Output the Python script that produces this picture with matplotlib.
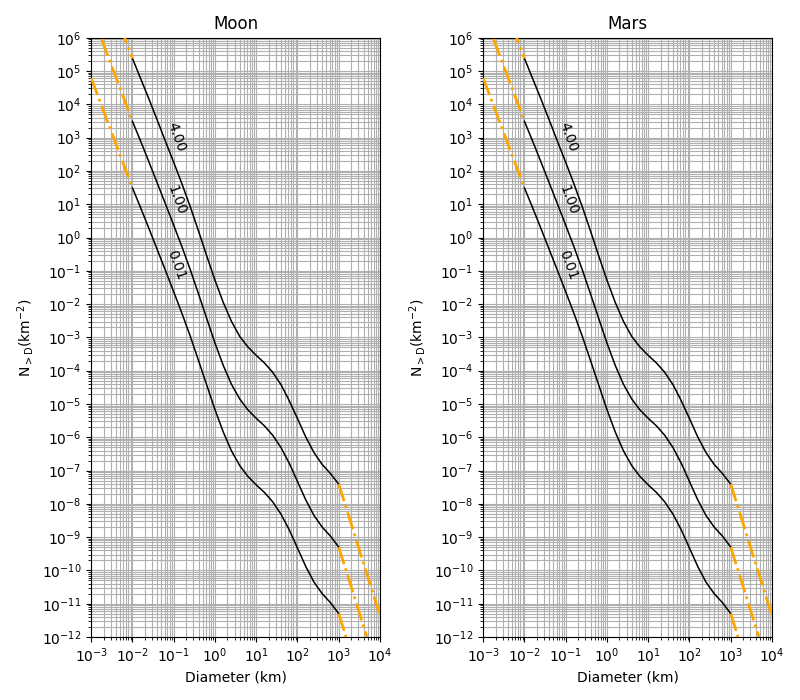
import numpy as np
import matplotlib
matplotlib.use('Agg')
import matplotlib.pyplot as plt
from matplotlib.ticker import LogLocator, NullFormatter

panel_titles = ['Moon', 'Mars']
iso_labels = ['4.00', '1.00', '0.01']

# log10 of crater diameter (km) at which the curves were read
log10_diam = [-2.0, -1.8, -1.6, -1.4, -1.2, -1.0, -0.8, -0.6, -0.4, -0.2,
              0.0, 0.2, 0.4, 0.6, 0.8, 1.0, 1.2, 1.4, 1.6, 1.8,
              2.0, 2.2, 2.4, 2.6, 2.8, 3.0]

# log10 of cumulative crater density N(>D) (km^-2) read for each isochron
log10_n_4p00 = [5.38, 4.77, 4.16, 3.53, 2.89, 2.26, 1.61, 0.93, 0.20, -0.55,
                -1.28, -1.95, -2.52, -2.97, -3.29, -3.54, -3.77, -4.05, -4.42, -4.90,
                -5.44, -5.99, -6.46, -6.82, -7.09, -7.41]
log10_n_1p00 = [3.49, 2.89, 2.27, 1.64, 1.01, 0.37, -0.28, -0.96, -1.69, -2.43,
                -3.17, -3.84, -4.41, -4.85, -5.18, -5.43, -5.66, -5.94, -6.31, -6.78,
                -7.33, -7.88, -8.35, -8.70, -8.97, -9.30]
log10_n_0p01 = [1.49, 0.89, 0.27, -0.36, -0.99, -1.63, -2.28, -2.96, -3.69, -4.43,
                -5.17, -5.84, -6.41, -6.85, -7.18, -7.43, -7.66, -7.94, -8.31, -8.78,
                -9.33, -9.88, -10.35, -10.70, -10.97, -11.30]

# extrapolated (orange) segments: small-D side and large-D side
ext_left_log10_diam = [-3.0, -2.0]
ext_left_4p00 = [8.68, 5.38]
ext_left_1p00 = [6.79, 3.49]
ext_left_0p01 = [4.79, 1.49]

ext_right_log10_diam = [3.0, 4.0]
ext_right_4p00 = [-7.41, -11.36]
ext_right_1p00 = [-9.30, -13.25]
ext_right_0p01 = [-11.30, -15.25]

# label anchor positions (log10 D, log10 N)
label_log10_diam = [-0.94, -0.94, -0.94]
label_log10_n = [3.02, 1.13, -0.82]

curves = [log10_n_4p00, log10_n_1p00, log10_n_0p01]
ext_left = [ext_left_4p00, ext_left_1p00, ext_left_0p01]
ext_right = [ext_right_4p00, ext_right_1p00, ext_right_0p01]

fig = plt.figure(figsize=(8, 7), dpi=100)
axes = [fig.add_axes([0.114, 0.09, 0.361, 0.856]),
        fig.add_axes([0.604, 0.09, 0.361, 0.856])]

D = 10.0 ** np.array(log10_diam)
for ax, title in zip(axes, panel_titles):
    ax.set_xscale('log')
    ax.set_yscale('log')
    for c, el, er in zip(curves, ext_left, ext_right):
        ax.plot(D, 10.0 ** np.array(c), color='black', lw=1.1, zorder=3)
        ax.plot(10.0 ** np.array(ext_left_log10_diam), 10.0 ** np.array(el),
                color='orange', lw=2, ls='-.', zorder=3)
        ax.plot(10.0 ** np.array(ext_right_log10_diam), 10.0 ** np.array(er),
                color='orange', lw=2, ls='-.', zorder=3)
    for lab, lx, ly in zip(iso_labels, label_log10_diam, label_log10_n):
        ax.text(10.0 ** lx, 10.0 ** ly, lab, rotation=-70, ha='center', va='center',
                rotation_mode='anchor', fontsize=10, zorder=4)
    ax.set_xlim(1e-3, 1e4)
    ax.set_ylim(1e-12, 1e6)
    ax.xaxis.set_major_locator(LogLocator(base=10, numticks=30))
    ax.yaxis.set_major_locator(LogLocator(base=10, numticks=30))
    ax.xaxis.set_minor_locator(LogLocator(base=10, subs=np.arange(2, 10), numticks=300))
    ax.yaxis.set_minor_locator(LogLocator(base=10, subs=np.arange(2, 10), numticks=300))
    ax.xaxis.set_minor_formatter(NullFormatter())
    ax.yaxis.set_minor_formatter(NullFormatter())
    ax.grid(True, which='both', color='#b0b0b0', lw=0.8)
    ax.set_axisbelow(True)
    ax.set_title(title, fontsize=12)
    ax.set_xlabel('Diameter (km)')
    ax.set_ylabel(r'N$_{>\mathrm{D}}$(km$^{-2}$)')

fig.savefig('out.png', dpi=100)
